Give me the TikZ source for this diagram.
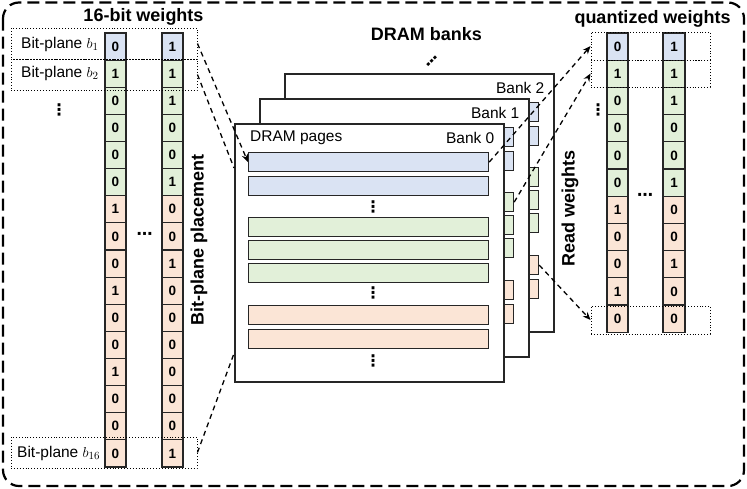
\documentclass[tikz,border=0pt]{standalone}
\usepackage{fontspec}
\setmainfont{Liberation Sans}
\newfontfamily\dvfont{DejaVu Sans}
\usetikzlibrary{calc,arrows.meta}
\definecolor{cblue}{HTML}{DAE3F3}
\definecolor{cgreen}{HTML}{E2F0D9}
\definecolor{corange}{HTML}{FBE5D6}
\definecolor{linec}{HTML}{262626}
\begin{document}
\begin{tikzpicture}[x=1pt,y=-1pt,
  cell/.style={draw=linec, line width=1.2pt, minimum width=21pt, minimum height=27.1pt, inner sep=0pt, font=\fontsize{13.5}{14}\selectfont\bfseries},
  dotbox/.style={draw=black, dotted, line width=0.9pt, inner sep=0pt},
  dasharrow/.style={line width=1.3pt, dash pattern=on 5pt off 4pt, -{Stealth[length=8pt,width=6.5pt]}},
  dashline/.style={line width=1.3pt, dash pattern=on 5pt off 4pt},
  bankbox/.style={draw=linec, line width=1.5pt, fill=white, inner sep=0pt, anchor=north west},
  pagebox/.style={draw=linec, line width=1.2pt, inner sep=0pt, anchor=north west, minimum width=240pt, minimum height=19pt},
  lbl/.style={inner sep=0pt, font=\fontsize{15.5}{17}\selectfont},
  ttl/.style={inner sep=0pt, font=\fontsize{18}{20}\selectfont\bfseries},
  dotsl/.style={inner sep=0pt, font=\dvfont\fontsize{16}{17}\selectfont\bfseries}
]
\useasboundingbox (0,0) rectangle (747,488);
% outer border
\draw[line width=2.2pt, dash pattern=on 12pt off 6pt, rounded corners=16pt] (3,2.5) rectangle (744,486);

% titles
\node[ttl] (t16) at (143.5,17) {16-bit weights};
\node[ttl] (tq) at (652.5,19) {quantized weights};
\node[ttl] (tdb) at (426.5,34) {DRAM banks};
\node[ttl, rotate=90] (tbp) at (199,240) {Bit-plane placement};
\node[ttl, rotate=90] (trw) at (570,208) {Read weights};

% left columns
\foreach \v/\c [count=\i] in {0/cblue,1/cgreen,0/cgreen,0/cgreen,0/cgreen,0/cgreen,1/corange,0/corange,0/corange,1/corange,0/corange,0/corange,1/corange,0/corange,0/corange,0/corange}
  \node[cell, fill=\c] (La\i) at (115.5,{33+27.125*(\i-0.5)}) {\v};
\foreach \v/\c [count=\i] in {1/cblue,1/cgreen,1/cgreen,0/cgreen,0/cgreen,1/cgreen,0/corange,0/corange,1/corange,0/corange,0/corange,0/corange,0/corange,0/corange,0/corange,1/corange}
  \node[cell, fill=\c] (Lb\i) at (172.5,{33+27.125*(\i-0.5)}) {\v};

% right columns
\foreach \v/\c [count=\i] in {0/cblue,1/cgreen,0/cgreen,0/cgreen,0/cgreen,0/cgreen,1/corange,0/corange,0/corange,1/corange,0/corange}
  \node[cell, fill=\c] (Ra\i) at (617.5,{33+27.2*(\i-0.5)}) {\v};
\foreach \v/\c [count=\i] in {1/cblue,1/cgreen,1/cgreen,0/cgreen,0/cgreen,1/cgreen,0/corange,0/corange,1/corange,0/corange,0/corange}
  \node[cell, fill=\c, minimum width=22pt] (Rb\i) at (674,{33+27.2*(\i-0.5)}) {\v};

% dotted bit-plane boxes
\node[dotbox, minimum width=186pt, minimum height=31pt] (pb1) at (104,43.5) {};
\node[dotbox, minimum width=186pt, minimum height=31pt] (pb2) at (104,74.5) {};
\node[dotbox, minimum width=186pt, minimum height=31pt] (pb16) at (104,452.5) {};
\node[dotbox, minimum width=119pt, minimum height=28pt] (qb1) at (650.5,46) {};
\node[dotbox, minimum width=119pt, minimum height=27pt] (qb2) at (650.5,73.5) {};
\node[dotbox, minimum width=119pt, minimum height=28pt] (qb11) at (650.5,320) {};

% bit-plane labels
\node[lbl, anchor=west] (lb1) at (21,44) {Bit-plane $b_1$};
\node[lbl, anchor=west] (lb2) at (21,73) {Bit-plane $b_2$};
\node[lbl, anchor=west] (lb16) at (17,453) {Bit-plane $b_{16}$};

% ellipses
\node[dotsl] (vd1) at (59,110) {⋮};
\node[dotsl] (vd2) at (598,110) {⋮};
\node[dotsl] (hd1) at (144.5,236) {⋯};
\node[dotsl] (hd2) at (645,197) {⋯};
\node[dotsl, rotate=-45] (dd) at (432,61) {⋮};

% banks
\foreach \k in {2,1,0} {
  \node[bankbox, minimum width=269pt, minimum height=258pt] (b\k) at ({234+25*\k},{123-25*\k}) {};
  \foreach \t/\c [count=\j] in {152/cblue,176/cblue,217/cgreen,240/cgreen,263/cgreen,305/corange,329/corange}
    \node[pagebox, fill=\c] (p\k-\j) at ({248+25*\k},{\t-25*\k}) {};
  \node[lbl, anchor=east] (bl\k) at ($(b\k.north east)+(-10,15)$) {Bank \k};
}
\node[lbl, anchor=west] (dp) at ($(b0.north west)+(16,15)$) {DRAM pages};
\node[dotsl] (bd1) at (373,207) {⋮};
\node[dotsl] (bd2) at (373,293) {⋮};
\node[dotsl] (bd3) at (373,361) {⋮};

% connectors
\coordinate (c2) at ($(b0.north west)+(0,45)$);
\coordinate (c3) at ($(b0.south west)+(0,-29)$);
\draw[dasharrow] (pb1.east) -- (p0-1.west);
\draw[dashline] (pb2.east) -- (c2);
\draw[dashline] (pb16.east) -- (c3);
\draw[dasharrow] (p0-1.east) -- (qb1.west);
\draw[dasharrow] (p1-3.east) -- (qb2.west);
\draw[dasharrow] (p2-6.east) -- (qb11.west);
\end{tikzpicture}
\end{document}
